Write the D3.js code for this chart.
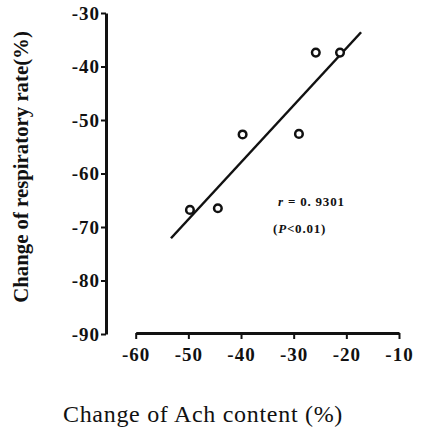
<!DOCTYPE html>
<html>
<head>
<meta charset="utf-8">
<script src="https://cdn.jsdelivr.net/npm/d3@7"></script>
<style>
    body { margin: 0; background: #ffffff; }
    svg { display: block; }
    .axis path, .axis line { stroke: #111; }
    .axis text { font-family: "Liberation Serif", "Times New Roman", serif; font-weight: bold; font-size: 19px; fill: #111; letter-spacing: 1px; }
</style>
</head>
<body>
<svg id="chart" width="425" height="430"></svg>
<script>
// ticks
let xTicks = [-60, -50, -40, -30, -20, -10];
let yTicks = [-30, -40, -50, -60, -70, -80, -90];

// measured points: Ach change vs respiratory rate change
let achChange  = [-49.7, -44.4, -39.7, -29.0, -25.8, -21.2];
let respChange = [-66.8, -66.5, -52.7, -52.6, -37.4, -37.4];

// regression line ends
let fitX = [-53.3, -17.2];
let fitY = [-72.1, -33.6];

let svg = d3.select("#chart");

const xScale = d3.scaleLinear()
    .domain([-60, -10])
    .range([135.7, 399]);

const yScale = d3.scaleLinear()
    .domain([-90, -30])
    .range([334, 13]);

let fmt = d => "-" + Math.abs(d);

//x axis
let xAxis = svg.append("g")
    .attr("class", "axis")
    .attr("transform", "translate(0, 333)")
    .call(d3.axisBottom(xScale)
        .tickValues(xTicks)
        .tickSize(6)
        .tickSizeOuter(0)
        .tickPadding(9)
        .tickFormat(fmt));
xAxis.select(".domain").attr("stroke-width", 3);
xAxis.selectAll(".tick line").attr("stroke-width", 2);

//y axis
let yAxis = svg.append("g")
    .attr("class", "axis")
    .attr("transform", "translate(106, 0)")
    .call(d3.axisLeft(yScale)
        .tickValues(yTicks)
        .tickSize(5)
        .tickSizeOuter(0)
        .tickPadding(1)
        .tickFormat(fmt));
yAxis.select(".domain").attr("stroke-width", 3);
yAxis.selectAll(".tick line").attr("stroke-width", 2);

//regression line
svg.append("line")
    .attr("x1", xScale(fitX[0]))
    .attr("y1", yScale(fitY[0]))
    .attr("x2", xScale(fitX[1]))
    .attr("y2", yScale(fitY[1]))
    .attr("stroke", "#111")
    .attr("stroke-width", 2.5);

//points
svg.append("g").selectAll("circle")
    .data(achChange)
    .enter()
    .append("circle")
    .attr("cx", d => xScale(d))
    .attr("cy", (d, i) => yScale(respChange[i]))
    .attr("r", 3.8)
    .attr("fill", "white")
    .attr("stroke", "#111")
    .attr("stroke-width", 2.5);

//stats text
let r = svg.append("text")
    .attr("x", 278)
    .attr("y", 206)
    .attr("font-family", "Liberation Serif, serif")
    .attr("font-weight", "bold")
    .attr("font-size", 13)
    .attr("letter-spacing", 0.8)
    .attr("fill", "#111");
r.append("tspan").attr("font-style", "italic").text("r");
r.append("tspan").text(" = 0. 9301");

let p = svg.append("text")
    .attr("x", 273)
    .attr("y", 233)
    .attr("font-family", "Liberation Serif, serif")
    .attr("font-weight", "bold")
    .attr("font-size", 13)
    .attr("letter-spacing", 0.8)
    .attr("fill", "#111");
p.append("tspan").text("(");
p.append("tspan").attr("font-style", "italic").text("P");
p.append("tspan").text("<0.01)");

//labels
svg.append("text")
    .attr("transform", "translate(28, 167) rotate(-90)")
    .attr("text-anchor", "middle")
    .attr("font-family", "Liberation Serif, serif")
    .attr("font-weight", "bold")
    .attr("font-size", 20.8)
    .attr("fill", "#111")
    .text("Change of respiratory rate(%)");

svg.append("text")
    .attr("x", 203)
    .attr("y", 422)
    .attr("text-anchor", "middle")
    .attr("font-family", "Liberation Serif, serif")
    .attr("font-size", 24)
    .attr("letter-spacing", 0.7)
    .attr("fill", "#111")
    .text("Change of Ach content (%)");
</script>
</body>
</html>
